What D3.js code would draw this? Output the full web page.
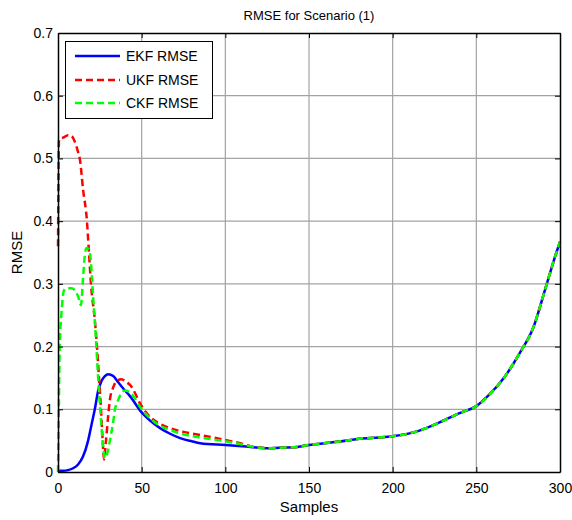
<!DOCTYPE html>
<html>
<head>
<meta charset="utf-8">
<script src="https://cdn.jsdelivr.net/npm/d3@7"></script>
<style>
  body { margin: 0; background: #fff; }
  text { font-family: "Liberation Sans", Arial, sans-serif; fill: #000; }
</style>
</head>
<body>
<div id="chart"></div>
<script>
// values: [sample, rmse]
const ekfRmse = [[0,0.002],[3,0.002],[6,0.003],[9,0.006],[12,0.012],[15,0.025],[18,0.05],[20,0.075],[22,0.1],[24,0.13],[26,0.145],[28,0.153],[30,0.156],[33,0.153],[36,0.143],[40,0.13],[43,0.121],[50,0.095],[55,0.082],[61,0.07],[67,0.061],[73,0.054],[80,0.049],[85,0.046],[100,0.043],[110,0.041],[115,0.04],[125,0.038],[135,0.039],[143,0.04],[150,0.043],[163,0.047],[175,0.051],[180,0.053],[192,0.055],[200,0.057],[216,0.066],[228,0.079],[240,0.094],[250,0.105],[258,0.124],[267,0.152],[276,0.19],[284,0.23],[291,0.29],[297,0.343],[300,0.367]];
const ukfRmse = [[0,0.36],[0.6,0.53],[3,0.533],[6,0.537],[8,0.536],[10,0.527],[12,0.51],[13,0.5],[15,0.45],[17.3,0.4],[18.5,0.35],[19.7,0.3],[22,0.242],[23.3,0.2],[24.5,0.15],[25.7,0.1],[26.7,0.05],[27.5,0.02],[28.5,0.045],[30,0.09],[31,0.115],[33,0.135],[35,0.145],[38,0.148],[41,0.143],[43,0.139],[50,0.105],[55,0.088],[60,0.078],[67,0.07],[75,0.064],[85,0.059],[100,0.051],[110,0.045],[115,0.041],[125,0.038],[135,0.039],[143,0.04],[150,0.043],[163,0.047],[175,0.051],[180,0.053],[192,0.055],[200,0.057],[216,0.066],[228,0.079],[240,0.094],[250,0.105],[258,0.124],[267,0.152],[276,0.19],[284,0.23],[291,0.29],[297,0.343],[300,0.367]];
const ckfRmse = [[0,0],[0.5,0.1],[1,0.2],[2,0.25],[3.5,0.289],[5,0.293],[8,0.293],[10,0.29],[12,0.28],[13.7,0.266],[15,0.31],[16,0.345],[17,0.357],[18.5,0.355],[19.5,0.34],[21,0.28],[22.5,0.22],[24,0.15],[25.5,0.09],[27,0.04],[28,0.022],[29.5,0.03],[31,0.05],[33,0.08],[34,0.099],[36,0.115],[38,0.126],[40,0.13],[43,0.127],[46,0.117],[50,0.1],[55,0.086],[60,0.075],[67,0.067],[75,0.06],[85,0.055],[100,0.049],[110,0.044],[115,0.041],[125,0.038],[135,0.039],[143,0.04],[150,0.043],[163,0.047],[175,0.051],[180,0.053],[192,0.055],[200,0.057],[216,0.066],[228,0.079],[240,0.094],[250,0.105],[258,0.124],[267,0.152],[276,0.19],[284,0.23],[291,0.29],[297,0.343],[300,0.367]];

const seriesNames = ["EKF RMSE", "UKF RMSE", "CKF RMSE"];
const xTicks = [0, 50, 100, 150, 200, 250, 300];
const yTicks = [0, 0.1, 0.2, 0.3, 0.4, 0.5, 0.6, 0.7];

const width = 572, height = 520;
const margin = { top: 33, right: 12, bottom: 48, left: 58 };

const svg = d3.select("#chart").append("svg")
    .attr("width", width)
    .attr("height", height);

const x = d3.scaleLinear().domain([0, 300]).range([margin.left, width - margin.right]);
const y = d3.scaleLinear().domain([0, 0.7]).range([height - margin.bottom, margin.top]);

// 格線
svg.append("g")
    .selectAll("line")
    .data(xTicks.slice(1, -1))
    .enter().append("line")
    .attr("x1", d => x(d)).attr("x2", d => x(d))
    .attr("y1", y(0)).attr("y2", y(0.7))
    .attr("stroke", "#a3a3a3").attr("stroke-width", 1.2);
svg.append("g")
    .selectAll("line")
    .data(yTicks.slice(1, -1))
    .enter().append("line")
    .attr("x1", x(0)).attr("x2", x(300))
    .attr("y1", d => y(d)).attr("y2", d => y(d))
    .attr("stroke", "#a3a3a3").attr("stroke-width", 1.2);

// 曲線
const line = d3.line()
    .x(d => x(d[0]))
    .y(d => y(d[1]))
    .curve(d3.curveMonotoneX);

const styles = [
    { data: ekfRmse, color: "#0000ff", dash: null },
    { data: ukfRmse, color: "#ff0000", dash: "7,4" },
    { data: ckfRmse, color: "#00ff00", dash: "7,4" }
];

styles.forEach(s => {
    svg.append("path")
        .datum(s.data)
        .attr("d", line)
        .attr("fill", "none")
        .attr("stroke", s.color)
        .attr("stroke-width", 2.5)
        .attr("stroke-dasharray", s.dash);
});

// 座標軸 (ticks inward)
const fmtY = d => d === 0 ? "0" : d3.format(".1f")(d);
const axisB = svg.append("g")
    .attr("transform", `translate(0, ${y(0)})`)
    .call(d3.axisBottom(x).tickValues(xTicks).tickSize(-5).tickSizeOuter(0).tickPadding(11));
const axisL = svg.append("g")
    .attr("transform", `translate(${x(0)}, 0)`)
    .call(d3.axisLeft(y).tickValues(yTicks).tickFormat(fmtY).tickSize(-5).tickSizeOuter(0).tickPadding(5));
const axisT = svg.append("g")
    .attr("transform", `translate(0, ${y(0.7)})`)
    .call(d3.axisTop(x).tickValues(xTicks).tickSize(-5).tickSizeOuter(0).tickFormat(""));
const axisR = svg.append("g")
    .attr("transform", `translate(${x(300)}, 0)`)
    .call(d3.axisRight(y).tickValues(yTicks).tickSize(-5).tickSizeOuter(0).tickFormat(""));

[axisB, axisL, axisT, axisR].forEach(a => {
    a.select(".domain").attr("stroke", "#000").attr("stroke-width", 1.5);
    a.selectAll(".tick line").attr("stroke", "#000");
    a.selectAll("text").style("font-size", "14px").style("font-family", "'Liberation Sans', Arial, sans-serif");
});

// 標題與軸標籤
svg.append("text")
    .attr("x", (x(0) + x(300)) / 2)
    .attr("y", 20)
    .attr("text-anchor", "middle")
    .style("font-size", "13px")
    .text("RMSE for Scenario (1)");
svg.append("text")
    .attr("x", (x(0) + x(300)) / 2)
    .attr("y", 512)
    .attr("text-anchor", "middle")
    .style("font-size", "15px")
    .text("Samples");
svg.append("text")
    .attr("transform", `translate(22, ${(y(0) + y(0.7)) / 2}) rotate(-90)`)
    .attr("text-anchor", "middle")
    .style("font-size", "15px")
    .text("RMSE");

// 圖例
const legend = svg.append("g");
legend.append("rect")
    .attr("x", 65.5).attr("y", 41.5)
    .attr("width", 147).attr("height", 77)
    .attr("fill", "#fff").attr("stroke", "#000").attr("stroke-width", 1);
const rowY = [56, 80, 103];
styles.forEach((s, i) => {
    legend.append("line")
        .attr("x1", 75).attr("x2", 120)
        .attr("y1", rowY[i]).attr("y2", rowY[i])
        .attr("stroke", s.color).attr("stroke-width", 2.5)
        .attr("stroke-dasharray", s.dash);
    legend.append("text")
        .attr("x", 126).attr("y", rowY[i] + 5)
        .style("font-size", "14px")
        .text(seriesNames[i]);
});
</script>
</body>
</html>
